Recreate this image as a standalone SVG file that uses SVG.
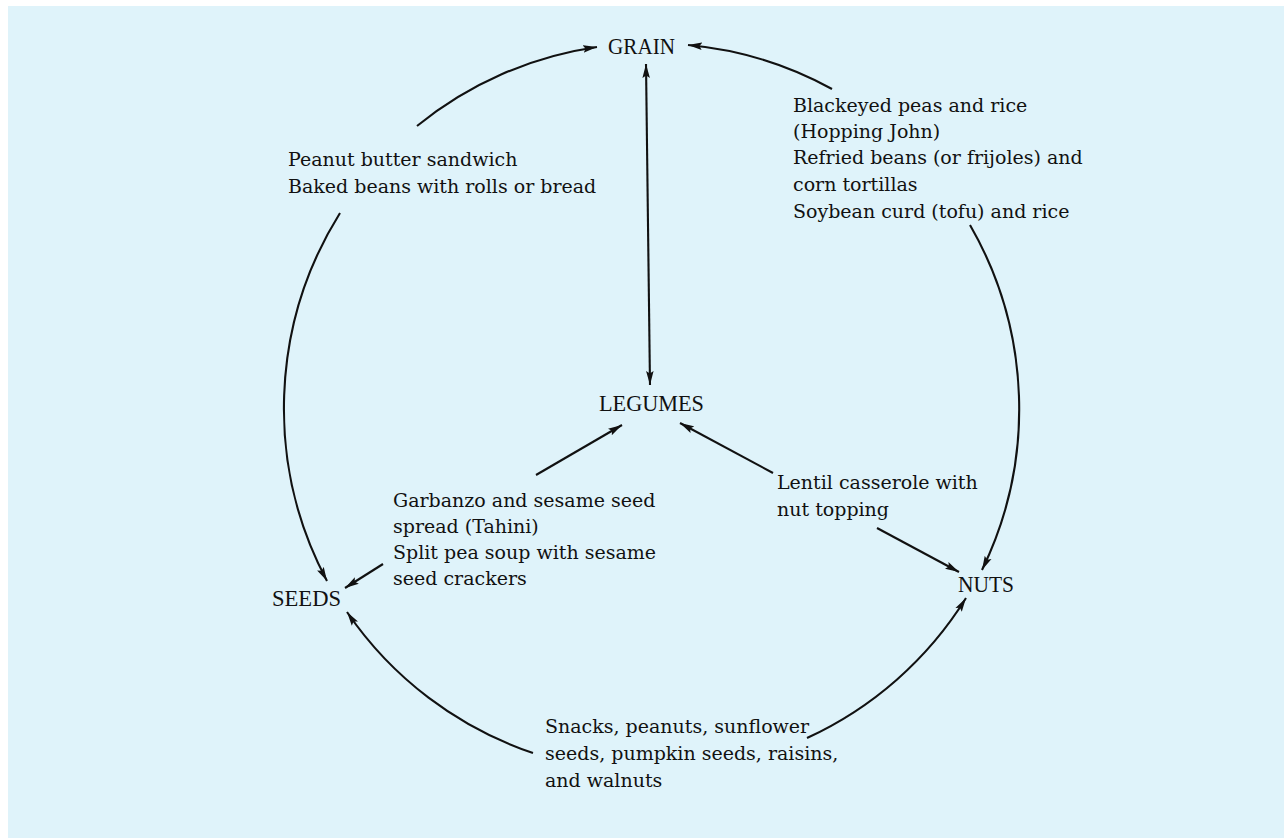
<svg xmlns="http://www.w3.org/2000/svg" width="1284" height="838" viewBox="0 0 1284 838">
<defs>
<marker id="ah" markerUnits="userSpaceOnUse" markerWidth="15" markerHeight="8" refX="14" refY="3.75" orient="auto-start-reverse" viewBox="0 0 15 7.5">
<path d="M0,0 L14,3.75 L0,7.5 L2.5,3.75 z" fill="#111"/>
</marker>
<style>
.bg{fill:#dff3fa}
.node{font-family:"Liberation Serif","Times New Roman",serif;font-size:24px;fill:#111}
.lbl{font-family:"DejaVu Serif","Liberation Serif",serif;font-size:19px;fill:#111}
.c{fill:none;stroke:#111;stroke-width:2.1;marker-end:url(#ah)}
.d{marker-start:url(#ah)}
</style>
</defs>
<rect class="bg" x="8" y="6" width="1276" height="832"/>
<g id="connectors">
<path class="c" d="M417,126 A368,368 0 0 1 597,47"/>
<path class="c" d="M832,89 A368,368 0 0 0 688,45"/>
<path class="c d" d="M646,64 L650,385"/>
<path class="c" d="M340,213 A368,368 0 0 0 327,581"/>
<path class="c" d="M970,225 A368,368 0 0 1 982,570"/>
<path class="c" d="M536,475 L622,425"/>
<path class="c" d="M773,473 L680,423"/>
<path class="c" d="M877,528 L959,572"/>
<path class="c" d="M383,564 L345,588"/>
<path class="c" d="M533,753 A368,368 0 0 1 347,612"/>
<path class="c" d="M807,738 A368,368 0 0 0 966,598"/>
</g>
<g id="grain"><text class="node" x="608" y="54" textLength="67" lengthAdjust="spacingAndGlyphs">GRAIN</text></g>
<g id="legumes"><text class="node" x="599" y="411" textLength="105" lengthAdjust="spacingAndGlyphs">LEGUMES</text></g>
<g id="seeds"><text class="node" x="272" y="606" textLength="69" lengthAdjust="spacingAndGlyphs">SEEDS</text></g>
<g id="nuts"><text class="node" x="958" y="592" textLength="56" lengthAdjust="spacingAndGlyphs">NUTS</text></g>
<g id="label-grain-seeds"><text class="lbl" x="288"><tspan x="288" y="166">Peanut butter sandwich</tspan><tspan x="288" y="193">Baked beans with rolls or bread</tspan></text></g>
<g id="label-grain-nuts"><text class="lbl" x="793"><tspan x="793" y="112">Blackeyed peas and rice</tspan><tspan x="793" y="138">(Hopping John)</tspan><tspan x="793" y="164">Refried beans (or frijoles) and</tspan><tspan x="793" y="191">corn tortillas</tspan><tspan x="793" y="218">Soybean curd (tofu) and rice</tspan></text></g>
<g id="label-legumes-seeds"><text class="lbl" x="393"><tspan x="393" y="507">Garbanzo and sesame seed</tspan><tspan x="393" y="533">spread (Tahini)</tspan><tspan x="393" y="559">Split pea soup with sesame</tspan><tspan x="393" y="585">seed crackers</tspan></text></g>
<g id="label-legumes-nuts"><text class="lbl" x="777"><tspan x="777" y="489">Lentil casserole with</tspan><tspan x="777" y="516">nut topping</tspan></text></g>
<g id="label-seeds-nuts"><text class="lbl" x="545"><tspan x="545" y="733">Snacks, peanuts, sunflower</tspan><tspan x="545" y="760">seeds, pumpkin seeds, raisins,</tspan><tspan x="545" y="787">and walnuts</tspan></text></g>
</svg>
